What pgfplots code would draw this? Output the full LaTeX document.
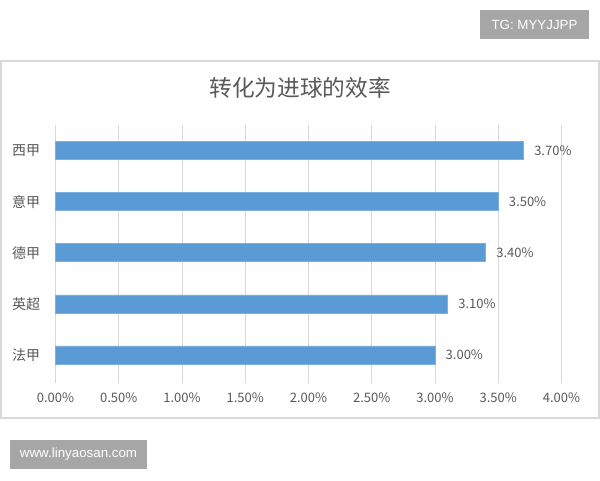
\documentclass[border=0pt]{standalone}
\usepackage{fontspec}
\setmainfont{Noto Sans CJK SC}
\newfontfamily\wm{Liberation Sans}
\usepackage{pgfplots}
\pgfplotsset{compat=1.18}

\definecolor{barblue}{HTML}{5B9BD5}
\definecolor{gridgray}{HTML}{D9D9D9}
\definecolor{txtgray}{HTML}{595959}
\definecolor{boxgray}{HTML}{A6A6A6}

\begin{document}
\begin{tikzpicture}[x=1pt,y=1pt]
  % page and chart frame (px * 0.75)
  \fill[white] (0,0) rectangle (450,360);
  \draw[gridgray, line width=0.8pt] (0.75,46.5) rectangle (449.25,314.25);
  \node[text=txtgray, font=\fontsize{17}{20}\selectfont] at (225,294) {转化为进球的效率};

  % watermarks
  \fill[boxgray] (360,330.75) rectangle (441.75,352.5);
  \node[text=white, font=\wm\fontsize{10}{12}\selectfont] at (400.9,341.6) {TG: MYYJJPP};
  \fill[boxgray] (7.5,8.25) rectangle (110.25,30);
  \node[text=white, font=\wm\fontsize{10}{12}\selectfont] at (58.9,19.1) {www.linyaosan.com};

  \begin{axis}[
      at={(41.625pt,72.75pt)}, anchor=south west,
      scale only axis,
      width=379.5pt, height=193.5pt,
      xbar, bar width=13.5pt,
      xmin=0, xmax=4, ymin=-0.55, ymax=4.5,
      xtick={0,0.5,...,4},
      ytick=data,
      yticklabels={法甲,英超,德甲,意甲,西甲},
      xmajorgrids, grid style={gridgray, line width=0.75pt},
      axis line style={draw=none},
      major tick length=0pt,
      /pgf/number format/assume math mode=true,
      xticklabel={\pgfmathprintnumber[fixed,fixed zerofill,precision=2]{\tick}\%},
      xticklabel style={text=txtgray, font=\fontsize{9.75}{11}\selectfont, yshift=-4pt},
      yticklabel style={text=txtgray, font=\fontsize{10.5}{12}\selectfont, xshift=-8pt},
      nodes near coords={\pgfmathprintnumber[fixed,fixed zerofill,precision=2]{\pgfplotspointmeta}\%},
      point meta=x,
      nodes near coords style={text=txtgray, font=\fontsize{9.75}{11}\selectfont, anchor=west, xshift=4.5pt},
      clip=false,
    ]
    \draw[gridgray, line width=0.75pt] (axis cs:0,-0.55) -- (axis cs:0,4.5);
    \addplot[fill=barblue, draw=barblue!80!white, line width=0.4pt] coordinates {
      (3.00,0) (3.10,1) (3.40,2) (3.50,3) (3.70,4)
    };
  \end{axis}
\end{tikzpicture}
\end{document}
